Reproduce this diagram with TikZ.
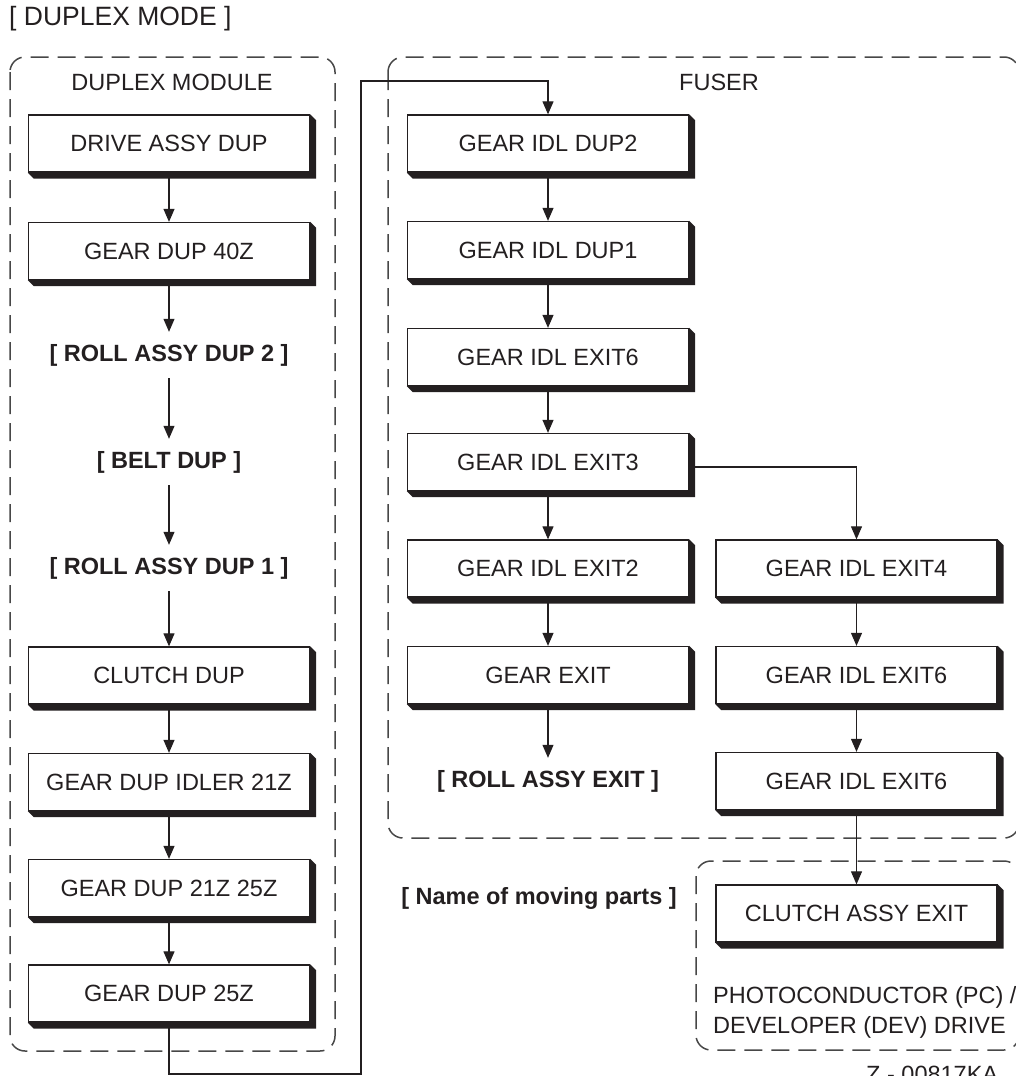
\documentclass[tikz,border=0pt]{standalone}
\usepackage{fontspec}
\setmainfont{Liberation Sans}
\usetikzlibrary{arrows.meta,calc}
\definecolor{ink}{HTML}{231F20}
\tikzset{
  part/.style={draw=ink, fill=white, line width=1.3pt, minimum width=281pt, minimum height=57pt, inner sep=0pt, text=ink, font=\fontsize{23.5}{28}\selectfont},
  item/.style={inner sep=0pt, minimum height=46pt, text=ink, font=\bfseries\fontsize{23.5}{28}\selectfont},
  conn/.style={draw=ink, line width=1.1pt, -{Triangle[length=13pt,width=11pt]}},
  group/.style={draw=black!72, line width=1.5pt, dash pattern=on 18pt off 9pt, rounded corners=15pt},
  lbl/.style={inner sep=0pt, text=ink, font=\fontsize{23.5}{28}\selectfont},
}
\newcommand\dropshadow[1]{\fill[ink] (#1.north east) -- ++(6,6) -- ($(#1.south east)+(6,6)$) -- ($(#1.south west)+(6,6)$) -- (#1.south west) -- (#1.south east) -- cycle;}
\begin{document}
\begin{tikzpicture}[x=1pt,y=-1pt]
\useasboundingbox (0,0) rectangle (1015,1076);
% groups
\draw[group] (10,57) rectangle (335,1051);
\draw[group] (388,57) rectangle (1019,838);
\draw[group] (696,861) rectangle (1019,1050);
% labels
\node[lbl, anchor=west, font=\fontsize{26.5}{30}\selectfont] (title) at (9,19) {[ DUPLEX MODE ]};
\node[lbl] (dmlabel) at (172,82) {DUPLEX MODULE};
\node[lbl] (fuserlabel) at (719,82) {FUSER};
\node[lbl, anchor=west] (pc1) at (713,997) {PHOTOCONDUCTOR (PC) /};
\node[lbl, anchor=west] (pc2) at (713,1027) {DEVELOPER (DEV) DRIVE};
\node[item] (legend) at (539,898) {[ Name of moving parts ]};
\node[lbl, anchor=west] (code) at (866,1074) {Z - 00817KA};
% left column
\node[part] (dad) at (169,143.5) {DRIVE ASSY DUP};
\node[part] (g40) at (169,251) {GEAR DUP 40Z};
\node[item] (r2) at (169,355) {[ ROLL ASSY DUP 2 ]};
\node[item] (belt) at (169,462) {[ BELT DUP ]};
\node[item] (r1) at (169,568) {[ ROLL ASSY DUP 1 ]};
\node[part] (cd) at (169,675.5) {CLUTCH DUP};
\node[part] (gi21) at (169,782) {GEAR DUP IDLER 21Z};
\node[part] (g2125) at (169,888) {GEAR DUP 21Z 25Z};
\node[part] (g25) at (169,993.5) {GEAR DUP 25Z};
% fuser column 1
\node[part] (dup2) at (548,143.5) {GEAR IDL DUP2};
\node[part] (dup1) at (548,250) {GEAR IDL DUP1};
\node[part] (e6) at (548,357) {GEAR IDL EXIT6};
\node[part] (e3) at (548,462) {GEAR IDL EXIT3};
\node[part] (e2) at (548,568.5) {GEAR IDL EXIT2};
\node[part] (gexit) at (548,675) {GEAR EXIT};
\node[item] (rexit) at (548,781) {[ ROLL ASSY EXIT ]};
% fuser column 2
\node[part] (e4) at (856.5,568.5) {GEAR IDL EXIT4};
\node[part] (e6b) at (856.5,675) {GEAR IDL EXIT6};
\node[part] (e6c) at (856.5,781) {GEAR IDL EXIT6};
\node[part] (cae) at (856.5,913.5) {CLUTCH ASSY EXIT};
% shadows
\foreach \n in {dad,g40,cd,gi21,g2125,g25,dup2,dup1,e6,e3,e2,gexit,e4,e6b,e6c,cae}{\dropshadow{\n}}
% connectors
\draw[conn] (dad) -- (g40);
\draw[conn] (g40) -- (r2);
\draw[conn] (r2) -- (belt);
\draw[conn] (belt) -- (r1);
\draw[conn] (r1) -- (cd);
\draw[conn] (cd) -- (gi21);
\draw[conn] (gi21) -- (g2125);
\draw[conn] (g2125) -- (g25);
\coordinate (b1) at (361,1074);
\coordinate (b2) at (361,81);
\draw[conn] (g25.south) |- (b1) -- (b2) -| (dup2.north);
\draw[conn] (dup2) -- (dup1);
\draw[conn] (dup1) -- (e6);
\draw[conn] (e6) -- (e3);
\draw[conn] (e3) -- (e2);
\draw[conn] (e2) -- (gexit);
\draw[conn] (gexit) -- (rexit);
\draw[conn] ($(e3.east)+(0,5)$) -| (e4.north);
\draw[conn] (e4) -- (e6b);
\draw[conn] (e6b) -- (e6c);
\draw[conn] (e6c) -- (cae);
\end{tikzpicture}
\end{document}
